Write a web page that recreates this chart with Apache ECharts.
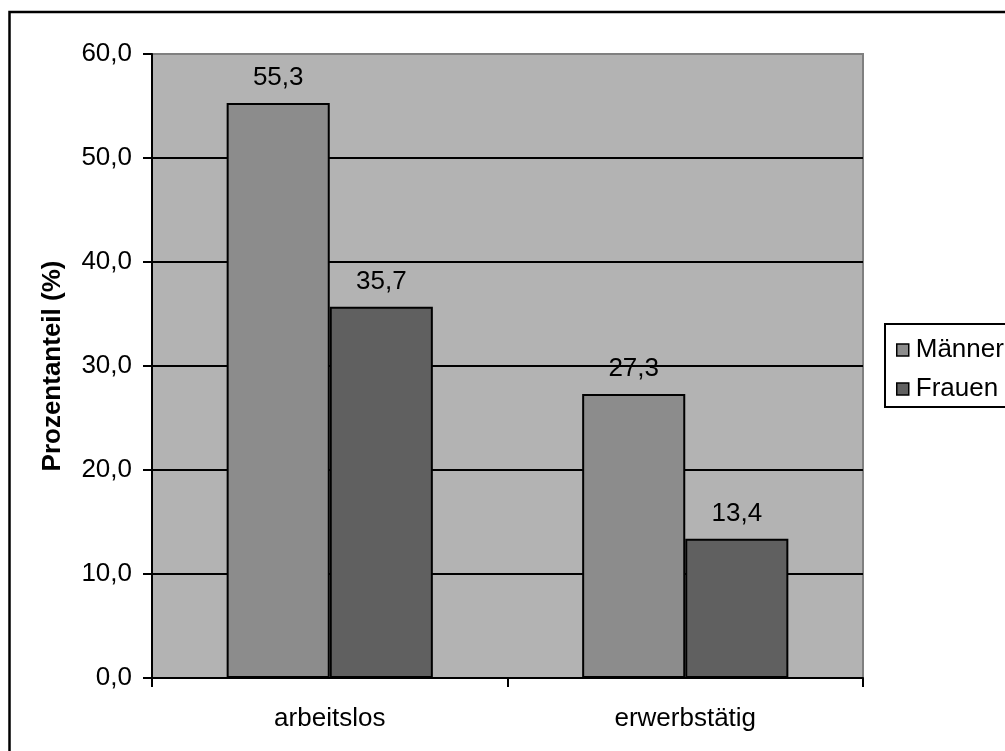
<!DOCTYPE html>
<html>
<head>
<meta charset="utf-8">
<script src="https://cdn.jsdelivr.net/npm/echarts@6/dist/echarts.min.js"></script>
<style>
  html, body { margin: 0; padding: 0; background: #ffffff; }
  #chart { width: 1005px; height: 751px; }
</style>
</head>
<body>
<div id="chart"></div>
<script>
// Anteil nach Erwerbsstatus und Geschlecht
const categories = ['arbeitslos', 'erwerbstätig'];
const seriesNames = ['Männer', 'Frauen'];
const maenner = [55.3, 27.3];
const frauen = [35.7, 13.4];
const yTicks = [0, 10, 20, 30, 40, 50, 60];

const FONT = 'Arial, "Liberation Sans", sans-serif';
const FS = 26;
const comma = v => Number(v).toFixed(1).replace('.', ',');

const chart = echarts.init(document.getElementById('chart'), null, { renderer: 'canvas' });

const barSeries = (name, data, color) => ({
  name: name,
  type: 'bar',
  data: data,
  barGap: '0%',
  barCategoryGap: '42%',
  itemStyle: { color: color, borderColor: '#000000', borderWidth: 2 },
  label: {
    show: true,
    position: 'top',
    distance: 12,
    color: '#000000',
    fontFamily: FONT,
    fontSize: FS,
    formatter: p => comma(p.value)
  },
  emphasis: { disabled: true }
});

chart.setOption({
  animation: false,
  backgroundColor: '#ffffff',
  textStyle: { fontFamily: FONT },
  graphic: [{
    type: 'rect',
    shape: { x: 9.5, y: 12, width: 1200, height: 900 },
    style: { fill: 'none', stroke: '#000000', lineWidth: 2.5 },
    silent: true,
    z: 100
  }],
  grid: {
    left: 152, top: 54, right: 142, bottom: 73,
    show: true,
    backgroundColor: '#b3b3b3',
    borderColor: '#808080',
    borderWidth: 2
  },
  legend: {
    orient: 'vertical',
    left: 885,
    top: 324,
    padding: [13, 200, 5, 11],
    itemGap: 13,
    itemWidth: 12,
    itemHeight: 12,
    icon: 'rect',
    itemStyle: { borderColor: '#000000', borderWidth: 1.5 },
    borderColor: '#000000',
    borderWidth: 2,
    backgroundColor: '#ffffff',
    textStyle: { fontFamily: FONT, fontSize: FS, color: '#000000', padding: [0, 0, 0, 2] },
    data: seriesNames
  },
  xAxis: {
    type: 'category',
    data: categories,
    axisLine: { lineStyle: { color: '#000000', width: 2 } },
    axisTick: { show: true, length: 9, lineStyle: { color: '#000000', width: 2 } },
    axisLabel: { color: '#000000', fontFamily: FONT, fontSize: FS, margin: 28 },
    splitLine: { show: false }
  },
  yAxis: {
    type: 'value',
    min: yTicks[0],
    max: yTicks[yTicks.length - 1],
    interval: yTicks[1] - yTicks[0],
    name: 'Prozentanteil (%)',
    nameLocation: 'middle',
    nameGap: 86,
    nameTextStyle: { color: '#000000', fontFamily: FONT, fontSize: FS, fontWeight: 'bold' },
    axisLine: { show: true, lineStyle: { color: '#000000', width: 2 } },
    axisTick: { show: true, length: 9, lineStyle: { color: '#000000', width: 2 } },
    axisLabel: { color: '#000000', fontFamily: FONT, fontSize: FS, margin: 20, formatter: comma },
    splitLine: { show: true, showMinLine: false, showMaxLine: false, lineStyle: { color: '#000000', width: 2 } }
  },
  series: [
    barSeries(seriesNames[0], maenner, '#8c8c8c'),
    barSeries(seriesNames[1], frauen, '#606060')
  ]
});
</script>
</body>
</html>
